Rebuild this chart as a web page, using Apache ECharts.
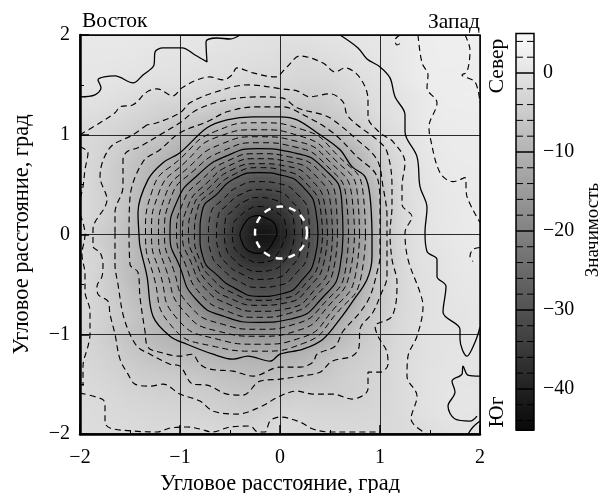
<!DOCTYPE html>
<html><head><meta charset="utf-8">
<style>html,body{margin:0;padding:0;background:#fff}#c{width:601px;height:493px}</style>
<script src="https://cdn.jsdelivr.net/npm/echarts@6/dist/echarts.min.js"></script>
</head><body><div id="c"></div>
<script>
// Significance on a 0.2 degree grid, rows from y=2 down to y=-2, columns x=-2..2
const gridRows = [
[1,1,1,1,.8,.6,.5,.3,0,-.3,-.5,-.3,-.2,0,.4,.8,1,2,2.2,2.2,2.2],
[.8,.8,.8,.5,.1,.1,0,-.4,-.6,-.8,-1.3,-1.9,-1.3,-.6,-.1,.5,1,1.8,2.2,2.3,2.2],
[.6,.5,.1,-.1,-.3,-.5,-.7,-1,-1.5,-2,-2,-2.5,-2.6,-1.9,-.9,-.2,.8,1.9,2.1,2,2],
[.2,-.2,-.7,-1.4,-2.2,-2,-2.4,-3,-3.6,-4.2,-4.2,-4.2,-4,-3,-1.8,-.7,0,1,1.9,2.2,2.2],
[-1,-1.5,-2.2,-3,-4,-5,-5.5,-6.6,-7.6,-8,-8,-7,-6,-4.8,-3.2,-1.4,0,1,1.7,1.8,1.9],
[-2,-2.6,-3.5,-5,-6.2,-8,-9.8,-11.5,-13,-14,-13.5,-12.3,-10.5,-8.2,-5.4,-2.6,-1,.5,1.5,1.7,1.7],
[-1.8,-3,-4.8,-7,-8.8,-11,-14,-17,-20,-21,-20.5,-19.8,-16.5,-12.5,-9,-4.5,-1.6,.2,1.2,1.6,1.6],
[-1.8,-3.5,-5.4,-8,-10.5,-14.5,-18.5,-23,-26.5,-29,-28,-25,-21,-16,-10.5,-6,-2,-.2,1,1.4,1.5],
[-1.8,-3.4,-5.5,-8.5,-12,-16.5,-22,-27.5,-31,-33.5,-32.5,-30,-24.5,-19,-12.5,-7.5,-2.5,-.2,.7,1.2,1.3],
[-1.9,-3.3,-6,-9,-13,-18.5,-24,-29.5,-35,-39,-37,-32,-27,-21,-14,-8,-2.6,-.4,.7,1.3,1.8],
[-2.2,-4.5,-6.5,-10,-14,-19.5,-25.5,-31,-37,-43,-41,-33.5,-28,-21,-14,-8,-2.8,-.4,.6,1.1,1.3],
[-2,-3.5,-6.8,-9,-13.5,-19,-25,-30.5,-36,-39,-36.5,-32.5,-27,-21,-14,-8,-2.8,-.4,0,1,1.3],
[-2,-3.5,-6.5,-9.5,-12.5,-17,-23,-28,-31.5,-33,-32,-30,-24.5,-19,-12,-6,-2.5,-.7,0,.7,1],
[-2,-3.8,-5.5,-8.5,-11,-15,-20,-25,-28,-30,-29.5,-26.5,-22,-16,-10,-5.5,-2.5,-.8,-.1,.5,.8],
[-2.3,-3.5,-5,-7,-10,-12.5,-16,-20,-22,-23,-22,-20.5,-18,-12,-7.5,-5,-2.2,-1,0,.2,.7],
[-2.4,-4,-5.8,-7.5,-9,-10.5,-12.5,-14,-15.5,-16,-15.5,-14,-12.8,-9,-6,-4,-2,-.8,-.1,0,.8],
[-2.4,-3.2,-4.6,-6,-7.3,-8.2,-9,-10,-10.3,-10.8,-10.5,-10,-8,-6,-4.5,-3.3,-1.8,-.8,-.1,.4,.5],
[-1.9,-2.7,-3.5,-4.4,-5,-5.3,-6,-7,-7.8,-8,-7.5,-6.8,-6,-4.5,-3.6,-3,-1.7,-.6,.1,.2,-.2],
[-1.8,-2,-2.6,-3.2,-3.6,-3.9,-4.4,-5,-5.5,-5.5,-4.8,-4,-4,-4,-3.5,-2.7,-1.8,-.6,.2,.5,.4],
[-1.3,-1.7,-2,-2.3,-2.6,-2.8,-3,-3.6,-4.1,-3.8,-2.5,-2.6,-2.8,-2.8,-2.6,-2.4,-1.7,-.8,0,.3,.2],
[-1.3,-1.4,-1.6,-1.8,-1.9,-1.9,-1.9,-1.9,-1.9,-1.8,-1.5,-1.8,-1.9,-2,-2,-2,-1.9,-1.6,-.8,-.1,.2]
];

// Solid contours, outer region (data coordinates)
const solid0Left = [[-2,1.38],[-1.85,1.40],[-1.79,1.47],[-1.82,1.55],[-1.65,1.59],[-1.47,1.52],[-1.37,1.60],[-1.26,1.70],[-1.25,1.83],[-1.17,1.87],[-.98,1.87],[-.85,1.80],[-.73,1.73],[-.74,1.93],[-.63,1.97],[-.5,1.96],[-.4,2]];
const solid0Right = [[.6,2],[.78,1.87],[.87,1.76],[1,1.68],[1.1,1.57],[1.15,1.38],[1.25,1.2],[1.25,1.03],[1.37,.78],[1.4,.48],[1.47,.27],[1.45,.02],[1.47,-.17],[1.57,-.25],[1.57,-.42],[1.66,-.52],[1.63,-.78],[1.8,-.95],[1.8,-1.05],[1.87,-1.22],[1.95,-1.08],[2,-.93]];
const solid0Pocket = [[2,-1.42],[1.88,-1.41],[1.83,-1.32],[1.82,-1.40],[1.72,-1.47],[1.75,-1.58],[1.68,-1.72],[1.75,-1.85],[1.9,-1.87],[1.97,-1.82]];
const solid0Corner = [[1.88,-2],[1.93,-1.93],[2,-1.87]];
const solid10 = [[.92,.02],[.9,.38],[.85,.58],[.72,.68],[.6,.85],[.37,1.02],[.17,1.15],[0,1.18],[-.27,1.18],[-.53,1.15],[-.73,1.07],[-1,.82],[-1.17,.72],[-1.32,.55],[-1.42,.22],[-1.41,0],[-1.4,-.12],[-1.33,-.42],[-1.27,-.82],[-1.1,-1.02],[-.93,-1.1],[-.67,-1.2],[-.47,-1.25],[-.32,-1.22],[-.1,-1.27],[0,-1.2],[.23,-1.15],[.43,-1.05],[.62,-.82],[.72,-.68],[.87,-.45],[.92,-.22],[.92,.02]];

// Dashed contours, outer region
const dashPlusA = [[1.38,2],[1.42,1.72],[1.48,1.60],[1.47,1.47],[1.57,1.32],[1.49,1.08],[1.5,.98],[1.6,.62],[1.73,.53],[1.85,.57],[1.87,.38],[2,.12]];
const dashPlusB = [[1.85,2],[1.9,1.85],[1.87,1.63],[1.82,1.60],[1.95,1.53],[2,1.32]];
const dashPlusC = [[1.2,2],[1.15,1.95],[1.17,1.9],[1.21,1.92]];
const dashPlusD = [[2,-.13],[1.93,-.15],[1.9,-.22],[1.93,-.27]];
const dash2Top = [[-2,1],[-1.8,1.12],[-1.65,1.22],[-1.6,1.28],[-1.47,1.30],[-1.33,1.43],[-1.23,1.46],[-1.07,1.39],[-.98,1.47],[-.83,1.55],[-.7,1.58],[-.57,1.55],[-.48,1.6],[-.43,1.67],[-.27,1.62],[-.05,1.58],[.07,1.68],[.2,1.79],[.43,1.72],[.55,1.63],[.65,1.67],[.8,1.57],[.88,1.35],[.88,1.18],[1,1.02],[1.13,.93],[1.25,.72],[1.22,.48],[1.22,.30],[1.32,.18],[1.25,.02],[1.28,-.25],[1.40,-.58],[1.43,-.72],[1.37,-1.02],[1.28,-1.22],[1.27,-1.42],[1.37,-1.62],[1.31,-1.85],[1.47,-2]];
const dash2Left = [[-2,.88],[-1.92,.82],[-1.95,.65],[-1.97,.48],[-2,.35]];
const dash2Left2 = [[-2,.2],[-1.97,.12],[-1.95,0],[-1.98,-.2],[-1.95,-.4],[-1.95,-.57],[-1.9,-.77],[-1.9,-1],[-1.92,-1.12],[-1.97,-1.32],[-1.97,-1.52]];
const dash2Bottom = [[-2,-1.59],[-1.78,-1.65],[-1.75,-1.7],[-1.75,-1.88],[-1.7,-1.94],[-1.47,-1.97],[-1.23,-1.98],[-1.1,-1.94],[-.93,-1.93],[-.8,-1.95],[-.68,-1.98],[-.5,-1.93],[-.3,-1.92],[-.22,-1.98],[-.15,-1.98],[-.1,-1.87],[0,-1.83],[.2,-1.88],[.33,-1.95],[.5,-1.98],[.73,-1.98],[1,-1.98]];
const dash4 = [[-1.33,1.1],[-1.47,1],[-1.7,.87],[-1.8,.58],[-1.73,.35],[-1.87,.05],[-1.87,-.12],[-1.8,-.18],[-1.77,-.3],[-1.78,-.42],[-1.83,-.52],[-1.82,-.6],[-1.72,-.67],[-1.7,-.8],[-1.65,-1],[-1.6,-1.25],[-1.52,-1.4],[-1.45,-1.5],[-1.3,-1.52],[-1.17,-1.5],[-1,-1.6],[-.8,-1.67],[-.67,-1.77],[-.43,-1.8],[-.2,-1.73],[0,-1.62],[.17,-1.57],[.33,-1.6],[.53,-1.6],[.72,-1.65],[.88,-1.55],[.88,-1.38],[1,-1.38],[1.08,-1.3],[1.07,-1.18],[.98,-1.02],[.95,-.92],[1.12,-.82],[1.17,-.48],[1.12,-.25],[1.1,.02],[1.12,.28],[1.12,.48],[1.07,.83],[.97,.95],[.77,1.1],[.67,1.2],[.63,1.33],[.5,1.41],[.3,1.38],[.17,1.44],[.02,1.46],[-.32,1.5],[-.67,1.42],[-.9,1.32],[-1,1.22],[-1.23,1.12],[-1.33,1.1]];
const dash6 = [[-1.65,.02],[-1.65,.22],[-1.57,.48],[-1.57,.75],[-1.53,.83],[-1.42,.87],[-1.2,1],[-1,1.12],[-.83,1.25],[-.53,1.35],[-.2,1.38],[.02,1.37],[.17,1.27],[.43,1.2],[.53,1.15],[.77,.95],[.97,.75],[1.03,.48],[1.07,.18],[1.07,-.05],[1.07,-.42],[1,-.62],[.93,-.78],[.8,-.95],[.79,-1.13],[.72,-1.22],[.52,-1.27],[.4,-1.38],[.2,-1.42],[0,-1.45],[-.2,-1.47],[-.37,-1.61],[-.53,-1.6],[-.73,-1.51],[-.87,-1.5],[-1.0,-1.32],[-1.1,-1.3],[-1.3,-1.2],[-1.42,-1.13],[-1.5,-1],[-1.57,-.8],[-1.62,-.5],[-1.65,-.3],[-1.65,.02]];
const dash8 = [[-1.51,.02],[-1.5,.37],[-1.37,.73],[-1.2,.85],[-1,1.02],[-.73,1.13],[-.53,1.23],[-.23,1.28],[.02,1.28],[.27,1.18],[.53,1.02],[.77,.78],[.97,.58],[1,.28],[1,.02],[1,-.22],[.97,-.38],[.9,-.62],[.8,-.78],[.63,-.97],[.55,-1.12],[.37,-1.2],[.33,-1.28],[.2,-1.33],[0,-1.33],[-.27,-1.42],[-.47,-1.37],[-.7,-1.35],[-.8,-1.3],[-.88,-1.2],[-1,-1.22],[-1.2,-1.18],[-1.32,-1.13],[-1.35,-.97],[-1.4,-.63],[-1.42,-.38],[-1.5,-.3],[-1.51,.02]];

// Inner contours: distance from the peak in 16 directions (22.5 degree steps), per level
const peakCentre = [-.215, 0];
const rings = {
 "-12":[1.07,1.13,1.12,1.14,1.12,1.12,1.09,1.15,1.13,1.13,1.26,1.21,1.17,1.18,1.11,1.11],
 "-14":[1.01,1.07,1.07,1.07,1.05,1.06,1.03,1.08,1.07,1.06,1.17,1.13,1.1,1.12,1.06,1.05],
 "-16":[.96,1.01,1.02,1.01,.98,.98,.97,1.01,1,.99,1.07,1.05,1.02,1.04,1,.99],
 "-18":[.9,.95,.97,.95,.92,.91,.91,.95,.94,.92,.99,.97,.95,.97,.95,.94],
 "-20":[.845,.9,.93,.89,.86,.85,.85,.88,.885,.85,.9,.89,.88,.91,.9,.88],
 "-22":[.79,.84,.88,.84,.81,.8,.79,.82,.82,.79,.83,.83,.83,.85,.84,.82],
 "-24":[.74,.78,.82,.79,.76,.75,.73,.76,.76,.73,.76,.76,.77,.8,.79,.77],
 "-26":[.69,.72,.76,.74,.71,.7,.68,.71,.7,.68,.7,.7,.71,.74,.73,.71],
 "-28":[.64,.67,.7,.69,.67,.65,.63,.66,.64,.64,.64,.64,.66,.69,.68,.66],
 "-30":[.595,.62,.65,.64,.62,.61,.58,.61,.585,.6,.58,.59,.62,.64,.63,.61],
 "-32":[.51,.54,.56,.55,.53,.52,.5,.52,.5,.51,.5,.51,.53,.55,.54,.53],
 "-34":[.44,.46,.47,.47,.45,.44,.43,.44,.42,.43,.43,.43,.45,.47,.46,.45],
 "-36":[.36,.38,.38,.38,.37,.36,.35,.36,.34,.35,.35,.36,.37,.38,.37,.36],
 "-38":[.28,.29,.29,.28,.28,.27,.26,.27,.26,.27,.27,.27,.28,.29,.27,.26],
 "-40":[.185,.19,.19,.18,.19,.19,.18,.175,.185,.18,.19,.19,.19,.185,.17,.165]
};
const solidRingLevels = ["-20","-30","-40"];
const dashedCircle = [[0.01, 0.02, 0.26]];
const colorbarLevels = [4,2,0,-2,-4,-6,-8,-10,-12,-14,-16,-18,-20,-22,-24,-26,-28,-30,-32,-34,-36,-38,-40,-42,-44];
const colorbarLabels = [0,-10,-20,-30,-40];
const sideLabels = {east:"Восток",west:"Запад",north:"Север",south:"Юг",bar:"Значимость"};
const axisTitle = "Угловое расстояние, град";

const FONT = '"Liberation Serif","Times New Roman",serif';
const grey = v => { const g = Math.round(Math.max(6, Math.min(247, 227 + 4.85 * v))); return `rgb(${g},${g},${g})`; };
const cr = (a,b,c,d,t) => b + .5*t*(c-a + t*(2*a-5*b+4*c-d + t*(3*(b-c)+d-a)));
const at = (r,c) => gridRows[Math.max(0,Math.min(20,r))][Math.max(0,Math.min(20,c))];
function sample0(x,y){
  const fc=(x+2)/.2, fr=(2-y)/.2, c=Math.floor(fc), r=Math.floor(fr), tx=fc-c, ty=fr-r, v=[];
  for(let i=-1;i<3;i++) v.push(cr(at(r+i,c-1),at(r+i,c),at(r+i,c+1),at(r+i,c+2),tx));
  return cr(v[0],v[1],v[2],v[3],ty);
}
const blur=.09;
const sample=(x,y)=>(2*sample0(x,y)+sample0(x-blur,y)+sample0(x+blur,y)+sample0(x,y-blur)+sample0(x,y+blur))/6;
const N=133, cell=4/N, cells=[];
for(let i=0;i<N;i++) for(let j=0;j<N;j++){
  const x=-2+(i+.5)*cell, y=-2+(j+.5)*cell; cells.push([x,y,sample(x,y)]);
}
const barCells=[]; for(let v=-45.2;v<5;v+=.25) barCells.push([.5,v+.125,v+.125]);

const minus = v => String(v).replace('-','−');
const lineOf=(data,solid,sm,w)=>({type:'line',data,xAxisIndex:0,yAxisIndex:0,showSymbol:false,symbol:'none',smooth:sm||.35,z:5,silent:true,
  lineStyle:{color:'#000',width:w||(solid?1.3:1.15),type:solid?'solid':[6,4]}});
const ringData=k=>{const a=rings[k].concat(rings[k][0]);return a.map((r,i)=>{const t=i*Math.PI/8;return [peakCentre[0]+r*Math.cos(t),peakCentre[1]+r*Math.sin(t)];});};

const series=[
 {type:'custom',xAxisIndex:0,yAxisIndex:0,data:cells,z:1,silent:true,progressive:0,encode:{x:0,y:1},
  renderItem:(p,api)=>{const x=api.value(0),y=api.value(1),h=cell/2;
   const a=api.coord([x-h,y+h]),b=api.coord([x+h,y-h]);
   const l=Math.floor(a[0]),t=Math.floor(a[1]);
   return {type:'rect',shape:{x:l,y:t,width:Math.ceil(b[0]-l)+1,height:Math.ceil(b[1]-t)+1},style:{fill:grey(api.value(2))},silent:true};}},
 ...[solid0Left,solid0Right,solid0Pocket,solid0Corner,solid10].map(d=>lineOf(d,true)),
 ...[dashPlusA,dashPlusB,dashPlusC,dashPlusD,dash2Top,dash2Left,dash2Left2,dash2Bottom,dash4,dash6,dash8].map(d=>lineOf(d,false)),
 ...Object.keys(rings).map(k=>{const s=solidRingLevels.includes(k);return lineOf(ringData(k),s,.55,s?1.2:1);}),
 {type:'custom',xAxisIndex:0,yAxisIndex:0,data:dashedCircle,z:6,silent:true,encode:{x:0,y:1},
  renderItem:(p,api)=>{const c=api.coord([api.value(0),api.value(1)]),s=api.size([api.value(2),api.value(2)]);
   return {type:'circle',shape:{cx:c[0],cy:c[1],r:s[0]},style:{fill:'none',stroke:'#fff',lineWidth:2.4,lineDash:[7,6]}};}},
 {type:'custom',xAxisIndex:1,yAxisIndex:1,data:barCells,z:1,silent:true,progressive:0,encode:{x:0,y:1},
  renderItem:(p,api)=>{const v=api.value(1);const a=api.coord([0,v+.125]),b=api.coord([1,v-.125]);
   return {type:'rect',shape:{x:a[0],y:Math.floor(a[1]),width:b[0]-a[0],height:Math.ceil(b[1]-a[1])+1},style:{fill:grey(api.value(2))}};}},
 ...colorbarLevels.map(v=>({type:'line',xAxisIndex:1,yAxisIndex:1,data:[[0,v],[1,v]],showSymbol:false,symbol:'none',z:5,silent:true,
   lineStyle:{color:'#000',width:v%10===0?1.5:1,type:v%10===0?'solid':[7,4]}}))
];

const mainAxis=(extra)=>Object.assign({type:'value',min:-2,max:2,interval:1,z:3,
  axisLine:{show:true,onZero:false,lineStyle:{color:'#000',width:2.5}},
  axisTick:{show:true,inside:true,length:9,lineStyle:{color:'#000',width:1.5}},
  minorTick:{show:true,splitNumber:2,length:4,lineStyle:{color:'#000',width:1}},
  splitLine:{show:true,lineStyle:{color:'#2a2a2a',width:1}},
  axisLabel:{color:'#000',fontFamily:FONT,fontSize:20,formatter:minus,hideOverlap:false,showMinLabel:true,showMaxLabel:true},
  name:axisTitle,nameLocation:'middle',
  nameTextStyle:{color:'#000',fontFamily:FONT,fontSize:22.4}},extra);

const txt=(text,x,y,rot,align,size)=>({type:'text',x,y,rotation:rot||0,z:20,silent:true,
  style:{text,fill:'#000',font:`${size||21.5}px ${FONT}`,textAlign:align||'center',textVerticalAlign:'middle'}});

const chart=echarts.init(document.getElementById('c'),null,{renderer:'canvas'});
const xa=mainAxis({gridIndex:0,position:'bottom',nameGap:38}); xa.axisLabel=Object.assign({},xa.axisLabel,{margin:14});
const ya=mainAxis({gridIndex:0,position:'left',nameGap:47}); ya.axisLabel=Object.assign({},ya.axisLabel,{margin:10});
chart.setOption({
 animation:false,backgroundColor:'#fff',
 grid:[{left:80,top:35,width:400,height:399,outerBoundsMode:'none',containLabel:false,show:true,borderColor:'#000',borderWidth:1.5,backgroundColor:'transparent',z:4},
       {left:516,top:33.5,width:18,height:396.5,outerBoundsMode:'none',containLabel:false,show:true,borderColor:'#000',borderWidth:1.5,backgroundColor:'transparent',z:6}],
 xAxis:[xa,{type:'value',gridIndex:1,min:0,max:1,show:false}],
 yAxis:[ya,
        {type:'value',gridIndex:1,min:-45.2,max:5,position:'right',
         axisLine:{show:false},axisTick:{show:false},splitLine:{show:false},
         axisLabel:{show:true,customValues:colorbarLabels,color:'#000',fontFamily:FONT,fontSize:20,margin:9,formatter:minus}}],
 series,
 graphic:[
  txt(sideLabels.east,82,21,0,'left'),
  txt(sideLabels.west,480,22,0,'right'),
  txt(sideLabels.north,497,66,Math.PI/2),
  txt(sideLabels.south,497,412,Math.PI/2),
  txt(sideLabels.bar,593,230,Math.PI/2,'center',19)
 ]
});
</script></body></html>
